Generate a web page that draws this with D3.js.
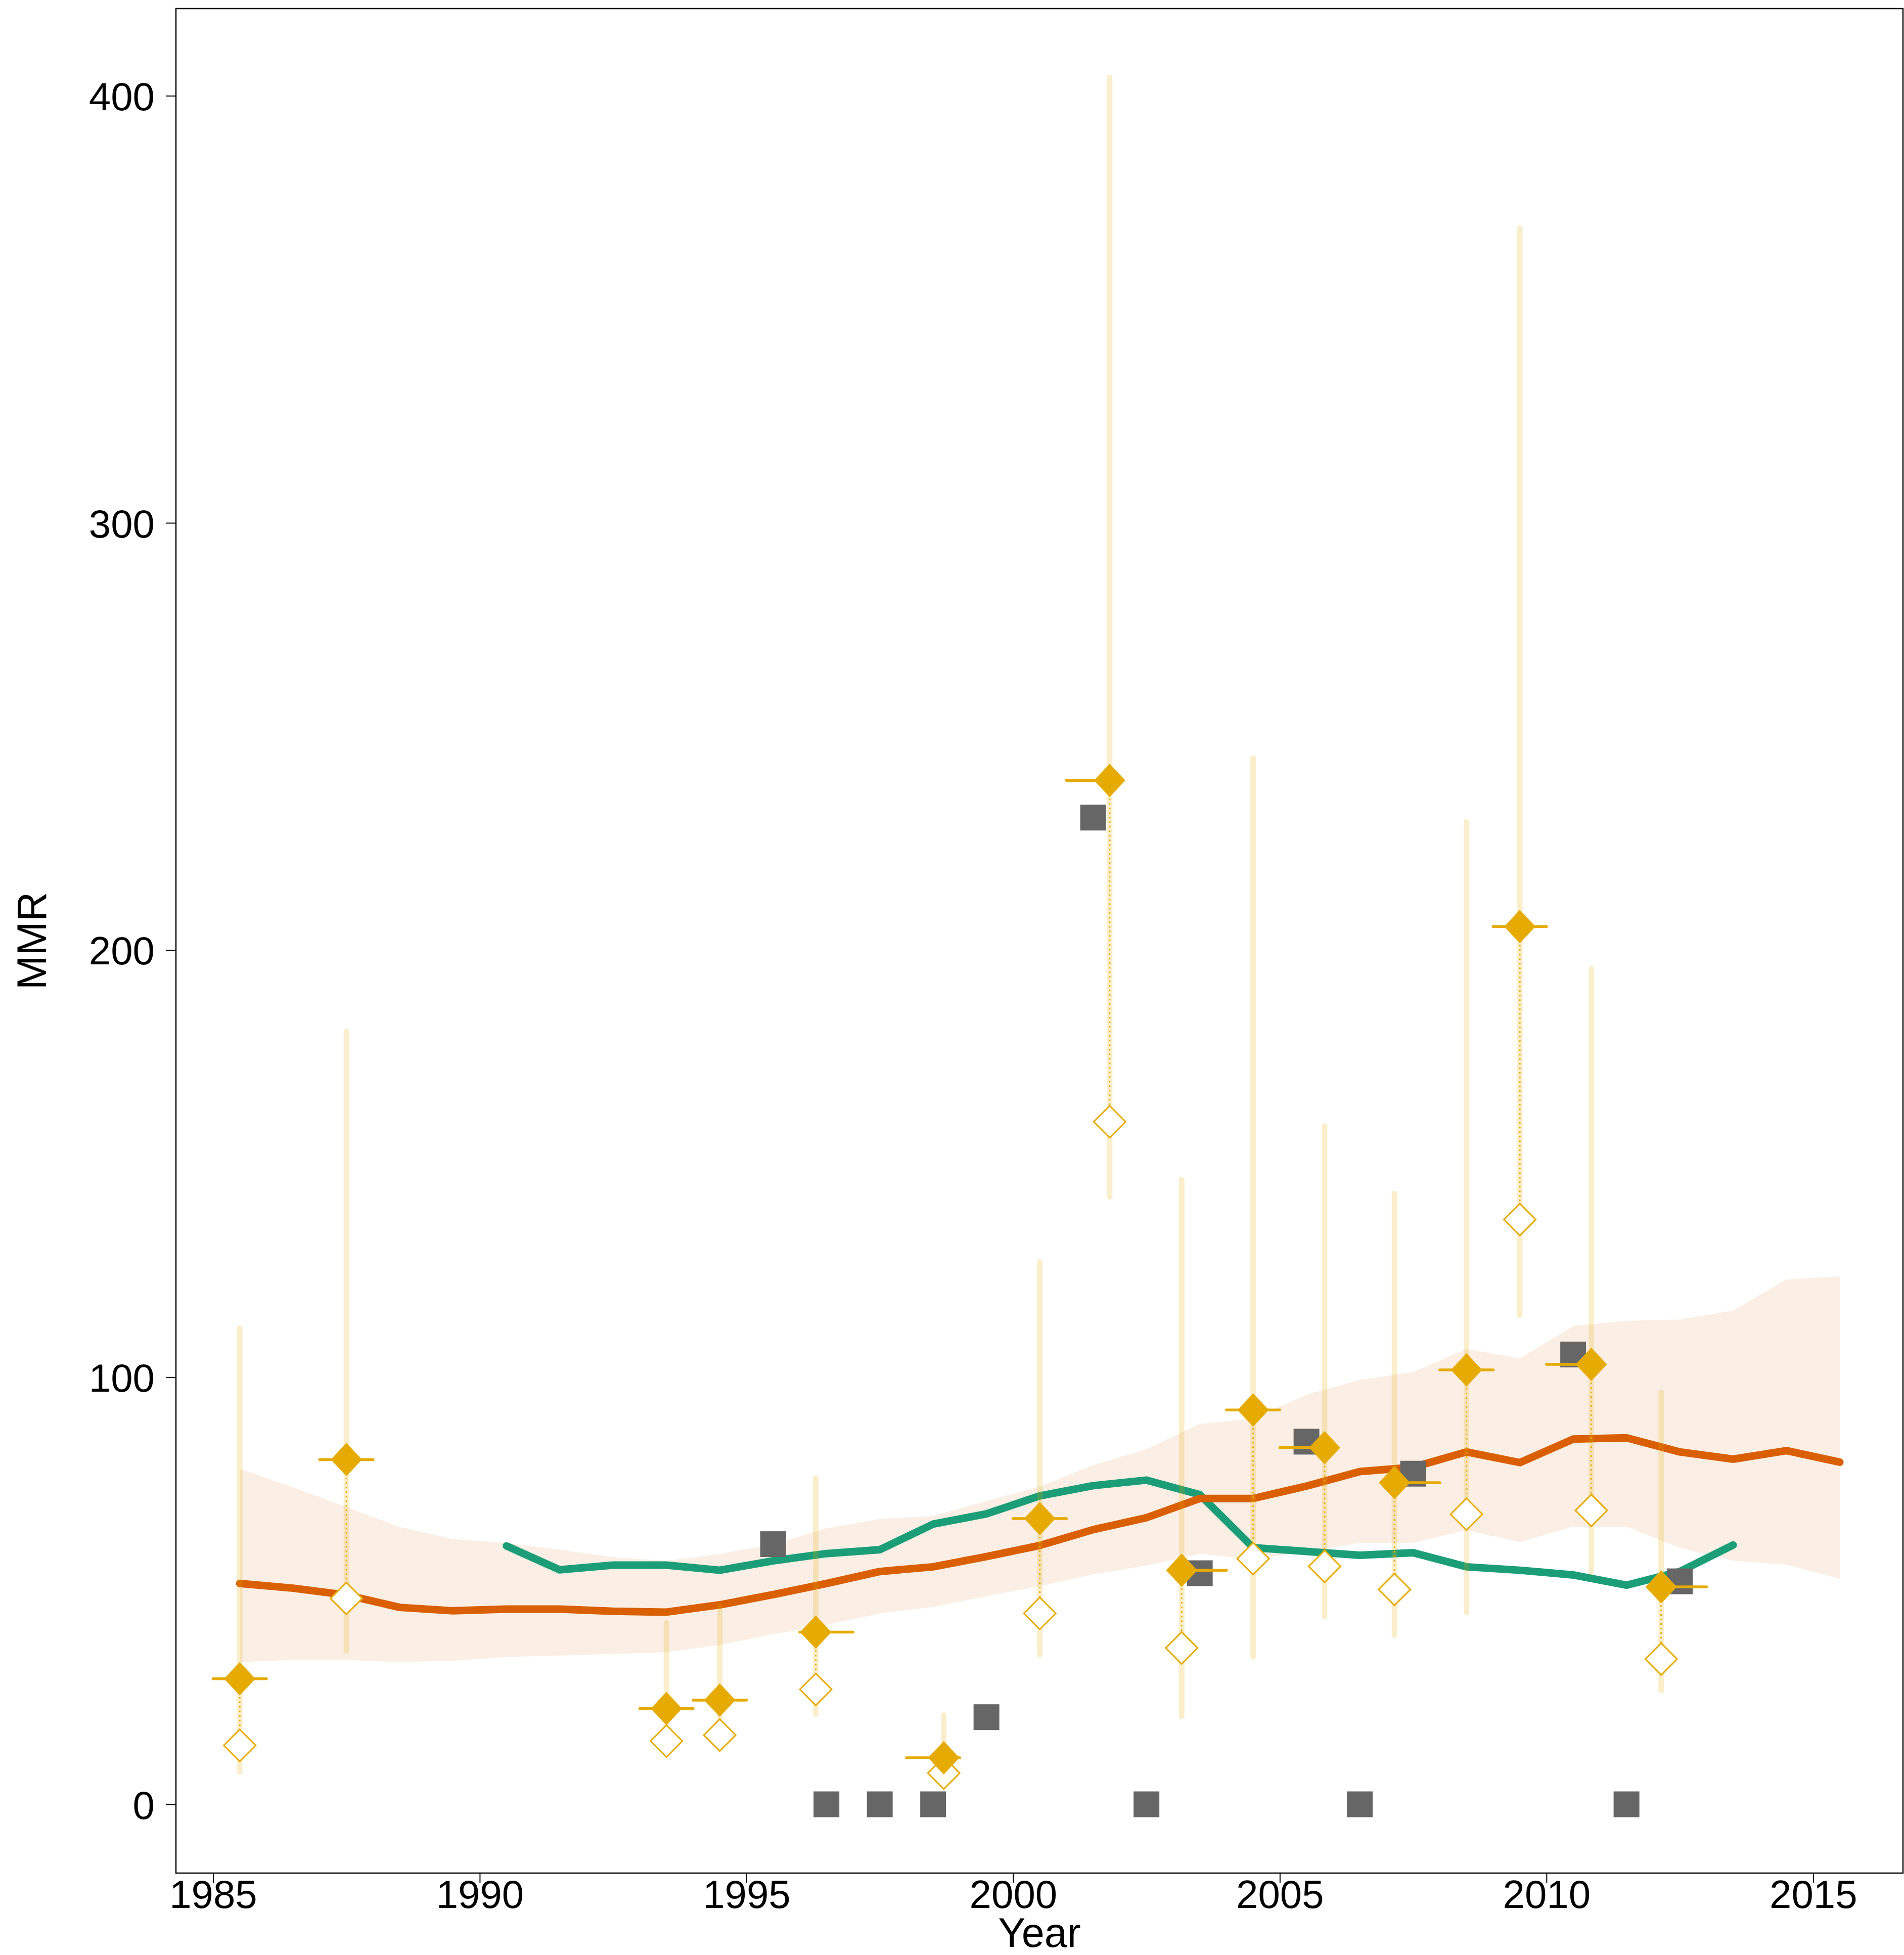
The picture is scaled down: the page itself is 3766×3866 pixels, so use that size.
<!DOCTYPE html>
<html>
<head>
<meta charset="utf-8">
<script src="https://cdn.jsdelivr.net/npm/d3@7"></script>
<style>
  body { margin: 0; background: #fff; }
  text { font-family: "Liberation Sans", Arial, sans-serif; }
</style>
</head>
<body>
<div id="chart"></div>
<script>
// model estimate (orange line + band), one value per year mid-point
const estYears = [1985.5, 1986.5, 1987.5, 1988.5, 1989.5, 1990.5, 1991.5, 1992.5, 1993.5, 1994.5,
  1995.5, 1996.5, 1997.5, 1998.5, 1999.5, 2000.5, 2001.5, 2002.5, 2003.5, 2004.5,
  2005.5, 2006.5, 2007.5, 2008.5, 2009.5, 2010.5, 2011.5, 2012.5, 2013.5, 2014.5, 2015.5];
const estMMR = [51.7, 50.6, 49.0, 46.1, 45.3, 45.7, 45.7, 45.2, 45.0, 46.7,
  49.1, 51.7, 54.5, 55.6, 58.0, 60.6, 64.3, 67.1, 71.6, 71.6,
  74.5, 77.9, 78.9, 82.5, 80.0, 85.5, 85.8, 82.5, 80.8, 82.8, 80.1];
const estUpper = [78.6, 74.2, 69.6, 64.9, 62.1, 61.2, 59.6, 57.9, 57.0, 58.6,
  60.9, 64.6, 66.8, 67.5, 71.0, 74.4, 79.4, 83.1, 89.1, 90.3,
  95.9, 99.4, 101.2, 106.6, 104.4, 112.0, 113.2, 113.5, 115.6, 122.9, 123.6];
const estLower = [33.3, 33.8, 33.8, 33.3, 33.6, 34.5, 34.8, 35.2, 35.6, 37.3,
  39.8, 42.0, 44.7, 46.2, 48.7, 51.1, 53.8, 55.9, 58.6, 57.4,
  59.0, 61.2, 61.2, 64.2, 61.4, 65.0, 65.0, 60.0, 57.0, 56.1, 52.8];

// other estimate (green line)
const otherYears = [1990.5, 1991.5, 1992.5, 1993.5, 1994.5, 1995.5, 1996.5, 1997.5, 1998.5, 1999.5,
  2000.5, 2001.5, 2002.5, 2003.5, 2004.5, 2005.5, 2006.5, 2007.5, 2008.5, 2009.5,
  2010.5, 2011.5, 2012.5, 2013.5];
const otherMMR = [60.5, 54.9, 56.0, 56.0, 54.8, 57.0, 58.7, 59.6, 65.6, 68.0,
  72.2, 74.6, 75.9, 72.5, 60.1, 59.2, 58.3, 58.9, 55.6, 54.8,
  53.7, 51.3, 54.5, 60.7];

// observations (gold): adjusted + raw value, uncertainty and period covered
const obsYear = [1985.5, 1987.5, 1993.5, 1994.5, 1996.3, 1998.7, 2000.5, 2001.81, 2003.16, 2004.5,
  2005.84, 2007.15, 2008.5, 2009.5, 2010.84, 2012.15];
const obsStart = [1985, 1987, 1993, 1994, 1996, 1998, 2000, 2001, 2003, 2004,
  2005, 2007, 2008, 2009, 2010, 2012];
const obsEnd = [1986, 1988, 1994, 1995, 1997, 1999, 2001, 2002, 2004, 2005,
  2006, 2008, 2009, 2010, 2011, 2013];
const obsAdjusted = [29.4, 80.7, 22.4, 24.4, 40.3, 10.9, 66.9, 239.7, 54.8, 92.3,
  83.5, 75.3, 101.7, 205.5, 103.0, 50.9];
const obsRaw = [13.8, 48.2, 14.8, 16.2, 26.9, 7.3, 44.7, 159.8, 36.6, 57.5,
  55.7, 50.3, 67.9, 136.9, 68.8, 34.0];
const obsLow = [7.6, 35.9, 14.0, 16.0, 21.1, 6.0, 35.0, 142.2, 20.6, 34.5,
  43.9, 39.6, 44.9, 114.5, 54.3, 26.6];
const obsHigh = [111.5, 181.0, 42.5, 46.4, 76.4, 20.9, 127.0, 404.3, 146.3, 244.9,
  158.8, 143.0, 230.0, 369.0, 195.6, 96.5];

// grey squares
const sqYear = [1995.5, 1996.5, 1997.5, 1998.5, 1999.5, 2001.5, 2002.5, 2003.5, 2005.5, 2006.5,
  2007.5, 2010.5, 2011.5, 2012.5];
const sqMMR = [60.9, 0, 0, 0, 20.4, 231.0, 0, 54.1, 84.9, 0, 77.4, 105.3, 0, 52.2];

const xTicks = [1985, 1990, 1995, 2000, 2005, 2010, 2015];
const yTicks = [0, 100, 200, 300, 400];

const width = 3766;
const height = 3866;
const margin = { top: 17, right: 2, bottom: 162, left: 348 };

const gold = "#E6AB02";
const orange = "#D95F02";
const green = "#1B9E77";

const svg = d3.select("#chart")
  .append("svg")
  .attr("width", width)
  .attr("height", height);

svg.append("rect").attr("width", width).attr("height", height).attr("fill", "#fff");

const x = d3.scaleLinear()
  .domain([1984.304, 2016.684])
  .range([margin.left, width - margin.right]);
const y = d3.scaleLinear()
  .domain([-16.1, 420.4])
  .range([height - margin.bottom, margin.top]);

const est = estYears.map((d, i) => ({ year: d, mmr: estMMR[i], lo: estLower[i], hi: estUpper[i] }));
const other = otherYears.map((d, i) => ({ year: d, mmr: otherMMR[i] }));
const obs = obsYear.map((d, i) => ({
  year: d, start: obsStart[i], end: obsEnd[i],
  adj: obsAdjusted[i], raw: obsRaw[i], lo: obsLow[i], hi: obsHigh[i]
}));
const squares = sqYear.map((d, i) => ({ year: d, mmr: sqMMR[i] }));

// diamond path centred on 0,0
function diamond(hw, hh) {
  return "M0," + (-hh) + "L" + hw + ",0L0," + hh + "L" + (-hw) + ",0Z";
}

// band
svg.append("path")
  .datum(est)
  .attr("fill", orange)
  .attr("fill-opacity", 0.1)
  .attr("d", d3.area().x(d => x(d.year)).y0(d => y(d.lo)).y1(d => y(d.hi)));

// lines
const line = d3.line().x(d => x(d.year)).y(d => y(d.mmr));

svg.append("path")
  .datum(other)
  .attr("fill", "none")
  .attr("stroke", green)
  .attr("stroke-width", 15)
  .attr("stroke-linecap", "round")
  .attr("stroke-linejoin", "round")
  .attr("d", line);

svg.append("path")
  .datum(est)
  .attr("fill", "none")
  .attr("stroke", orange)
  .attr("stroke-width", 15)
  .attr("stroke-linecap", "round")
  .attr("stroke-linejoin", "round")
  .attr("d", line);

// uncertainty bars
svg.selectAll(".ci")
  .data(obs)
  .join("line")
  .attr("class", "ci")
  .attr("x1", d => x(d.year))
  .attr("x2", d => x(d.year))
  .attr("y1", d => y(d.lo))
  .attr("y2", d => y(d.hi))
  .attr("stroke", gold)
  .attr("stroke-opacity", 0.2)
  .attr("stroke-width", 11)
  .attr("stroke-linecap", "round");

// grey squares
const sq = 51;
svg.selectAll(".sq")
  .data(squares)
  .join("rect")
  .attr("class", "sq")
  .attr("x", d => x(d.year) - sq / 2)
  .attr("y", d => y(d.mmr) - sq / 2)
  .attr("width", sq)
  .attr("height", sq)
  .attr("fill", "#666666");

// period covered by each observation
svg.selectAll(".period")
  .data(obs)
  .join("line")
  .attr("class", "period")
  .attr("x1", d => x(d.start))
  .attr("x2", d => x(d.end))
  .attr("y1", d => y(d.adj))
  .attr("y2", d => y(d.adj))
  .attr("stroke", gold)
  .attr("stroke-width", 5.5)
  .attr("stroke-linecap", "round");

// dotted link raw -> adjusted
svg.selectAll(".link")
  .data(obs)
  .join("line")
  .attr("class", "link")
  .attr("x1", d => x(d.year))
  .attr("x2", d => x(d.year))
  .attr("y1", d => y(d.adj))
  .attr("y2", d => y(d.raw))
  .attr("stroke", gold)
  .attr("stroke-width", 3)
  .attr("stroke-dasharray", "3,6");

// raw values: open diamonds
svg.selectAll(".raw")
  .data(obs)
  .join("path")
  .attr("class", "raw")
  .attr("transform", d => "translate(" + x(d.year) + "," + y(d.raw) + ")")
  .attr("d", diamond(31.5, 31.5))
  .attr("fill", "#fff")
  .attr("stroke", gold)
  .attr("stroke-width", 3);

// adjusted values: filled diamonds
svg.selectAll(".adj")
  .data(obs)
  .join("path")
  .attr("class", "adj")
  .attr("transform", d => "translate(" + x(d.year) + "," + y(d.adj) + ")")
  .attr("d", diamond(31, 33))
  .attr("fill", gold);

// panel border
svg.append("rect")
  .attr("x", margin.left)
  .attr("y", margin.top)
  .attr("width", width - margin.left - margin.right)
  .attr("height", height - margin.top - margin.bottom)
  .attr("fill", "none")
  .attr("stroke", "#000")
  .attr("stroke-width", 2.5);

// axes
const yAxis = svg.append("g")
  .attr("transform", "translate(" + margin.left + ",0)")
  .call(d3.axisLeft(y).tickValues(yTicks).tickSize(20).tickPadding(22));
const xAxis = svg.append("g")
  .attr("transform", "translate(0," + (height - margin.bottom) + ")")
  .call(d3.axisBottom(x).tickValues(xTicks).tickFormat(d3.format("d")).tickSize(19).tickPadding(-5));

[xAxis, yAxis].forEach(g => {
  g.select(".domain").remove();
  g.selectAll(".tick line").attr("stroke", "#000").attr("stroke-width", 2);
  g.selectAll(".tick text")
    .attr("fill", "#000")
    .style("font-size", "78px")
    .style("font-family", "'Liberation Sans', Arial, sans-serif");
});
yAxis.selectAll(".tick text").attr("dy", "0.36em");

// axis titles
svg.append("text")
  .attr("x", (margin.left + width - margin.right) / 2)
  .attr("y", 3850)
  .attr("text-anchor", "middle")
  .style("font-size", "81px")
  .text("Year");

svg.append("text")
  .attr("transform", "translate(91," + ((margin.top + height - margin.bottom) / 2) + ") rotate(-90)")
  .attr("text-anchor", "middle")
  .style("font-size", "81px")
  .text("MMR");
</script>
</body>
</html>
